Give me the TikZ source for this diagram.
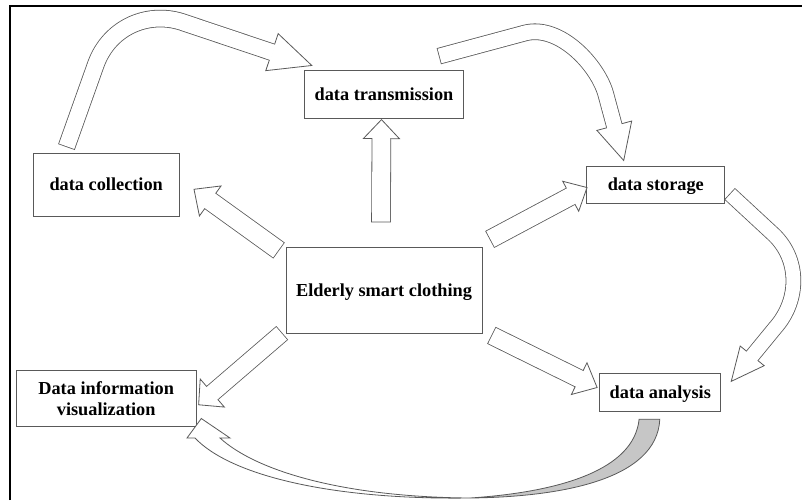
\documentclass[tikz,border=0pt]{standalone}
\usepackage{fontspec}
\setmainfont{Liberation Serif}
\usetikzlibrary{positioning,decorations.markings}

\definecolor{linegray}{gray}{0.35}

\tikzset{
  box/.style={draw=linegray, line width=0.8pt, inner sep=0pt, align=center,
    font=\bfseries\fontsize{18.3}{21.7}\selectfont},
  oneline/.style={text height=12.5pt, text depth=0.5pt},
  fat/.style args={#1/#2/#3}{draw=linegray, line width=#1+1.6pt,
    shorten <=-0.8pt, shorten >=#3,
    postaction={decorate, decoration={markings, mark=at position 1 with {%
      \filldraw[fill=white, draw=linegray, line width=0.8pt, shorten <=0pt, shorten >=0pt]
        (-#3,#2/2) -- (0pt,0pt) -- (-#3,-#2/2) -- cycle;}}},
    postaction={draw=white, line width=#1, shorten <=0pt, shorten >=#3-1.2pt}}
}

\begin{document}
\begin{tikzpicture}[x=1pt, y=-1pt]
  \useasboundingbox (0,0) rectangle (802,500);

% Frame
  \draw[line width=2.4pt] (10.2,500) -- (10.2,6.2) -- (802,6.2); %

% Nodes
  \node[box, oneline, minimum width=196pt, minimum height=86pt] (cloth) at (384,290) {Elderly smart clothing}; %
  \node[box, oneline, minimum width=159pt, minimum height=48pt, above = 128pt of cloth] (trans) {data transmission}; %
  \node[box, oneline, minimum width=146pt, minimum height=63pt, above left = 30pt and 106pt of cloth] (coll) {data collection}; %
  \node[box, oneline, minimum width=138pt, minimum height=37pt, above right = 43pt and 104pt of cloth] (store) {data storage}; %
  \node[box, minimum width=180pt, minimum height=56pt, below left = 37pt and 89pt of cloth] (vis) {Data information\\visualization}; %
  \node[box, oneline, minimum width=121pt, minimum height=38pt, below right = 40pt and 117pt of cloth] (ana) {data analysis}; %

% Edges
  \draw[fat=18pt/36pt/19pt] ([shift={(-3,-25)}]cloth.north) -- ([shift={(-2.5,1)}]trans.south); %
  \draw[fat=18pt/37pt/20pt] ([shift={(-7.2,3.5)}]cloth.north west) -- ([shift={(14.3,4.5)}]coll.east); %
  \draw[fat=17.5pt/34pt/18.5pt] ([shift={(8,-7.5)}]cloth.north east) -- ([shift={(0.7,2.8)}]store.west); %
  \draw[fat=16.5pt/37pt/18pt] ([shift={(-4,0)}]cloth.south west) -- ([shift={(2,6)}]vis.east); %
  \draw[fat=17.3pt/35.4pt/20pt] ([shift={(9.7,2.3)}]cloth.south east) -- ([shift={(-2.3,-5.3)}]ana.west); %

  \draw[fat=16pt/39pt/42pt] ([shift={(-39.5,-6.5)}]coll.north) -- (96,64)
    .. controls (110,26) and (150,10) .. (185,23) -- ([shift={(7.7,-4.3)}]trans.north west); %
  \draw[fat=15pt/36pt/36pt] ([shift={(-24.3,-13.8)}]trans.north east) -- (525,33)
    .. controls (560,24) and (598.5,66) .. (606,95) -- ([shift={(37.3,-5.3)}]store.north west); %
  \draw[fat=14pt/31pt/33pt] ([shift={(5,-9.3)}]store.south east) -- (772,233)
    .. controls (800,258) and (800,300) .. (775,328) -- ([shift={(10,8)}]ana.north east); %

% Feedback
  \filldraw[fill=gray!45, draw=linegray, line width=0.8pt] ([shift={(-21.2,7)}]ana.south)
    -- ([shift={(-0.5,7)}]ana.south) .. controls (657,480) and (560,497) .. (470,498)
    .. controls (560,492) and (634,470) .. ([shift={(-21.2,7)}]ana.south) -- cycle; %
  \filldraw[fill=white, draw=linegray, line width=0.8pt] (470,498)
    .. controls (330,500) and (230,475) .. (195,438) -- (187,438)
    -- ([shift={(4.7,-8.7)}]vis.south east) -- (230,438) -- (220,438)
    .. controls (255,470) and (340,497) .. (470,498) -- cycle; %

\end{tikzpicture}
\end{document}
